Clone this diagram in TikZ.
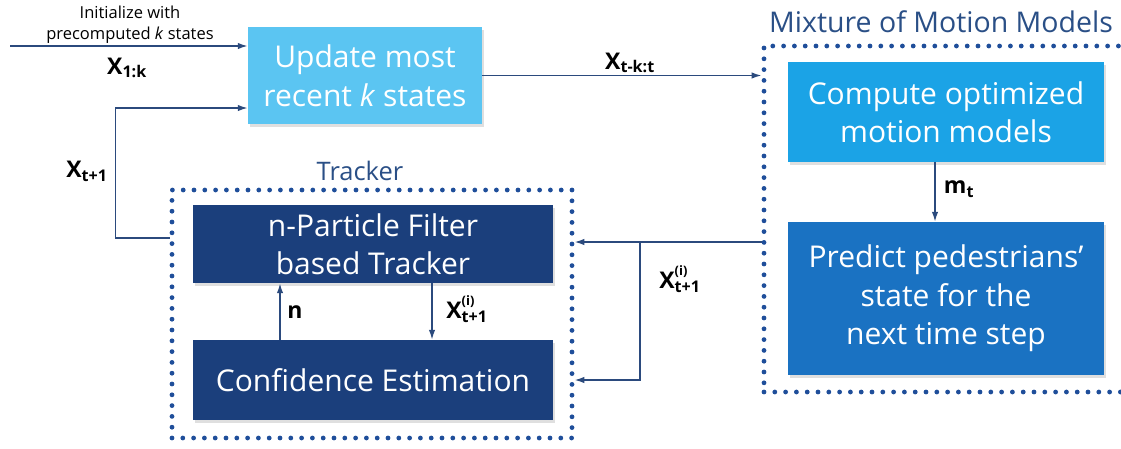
\documentclass[tikz,border=0pt]{standalone}
\usepackage{fontspec}
\setmainfont{Open Sans}
\usetikzlibrary{arrows.meta}
\usetikzlibrary{shadows}

\definecolor{skyblue}{HTML}{5BC5F2}
\definecolor{cyanblue}{HTML}{1BA3E6}
\definecolor{midblue}{HTML}{1A72C2}
\definecolor{navyblue}{HTML}{1B3F7C}
\definecolor{framecol}{HTML}{1F4E9A}
\definecolor{linkcol}{HTML}{2B4A7D}
\definecolor{titlecol}{HTML}{2A4F86}

\newcommand{\boxfont}{\fontsize{30}{38.5}\selectfont}
\newcommand{\labfont}{\fontsize{23}{26}\selectfont\bfseries}
\newcommand{\xsub}[1]{X\textsubscript{#1}}
\newcommand{\xpart}{X\rlap{\raisebox{1.05ex}{\fontsize{13}{13}\selectfont (i)}}\textsubscript{t+1}}

\begin{document}
\begin{tikzpicture}[x=1pt,y=-1pt,
  box/.style={rectangle, text=white, align=center, font=\boxfont, inner sep=0pt,
    drop shadow={opacity=0.25, shadow xshift=2pt, shadow yshift=-3pt}},
  frame/.style={rectangle, draw=framecol, line width=4.8pt, line cap=round, dash pattern=on 0pt off 10.8pt},
  link/.style={draw=linkcol, line width=1.6pt, -{Latex[length=10pt,width=6.5pt]}},
  lab/.style={font=\labfont, inner sep=0pt},
  heading/.style={text=titlecol, inner sep=0pt}]
\useasboundingbox (0,0) rectangle (1121,448);

% frames
\node[frame, minimum width=400pt, minimum height=248pt] (tracker) at (372,314) {};
\begin{scope}
\clip (0,0) rectangle (1121,448);
\node[frame, minimum width=420pt, minimum height=346pt] (mixture) at (974,219) {};
\end{scope}
\node[heading, font=\fontsize{25.5}{30}\selectfont] (trackertitle) at (360,171) {Tracker};
\node[heading, font=\fontsize{28.5}{32}\selectfont] (mixturetitle) at (941,22) {Mixture of Motion Models};

% boxes
\node[box, fill=skyblue, minimum width=234pt, minimum height=97pt] (update) at (365,75.5) {Update most\\recent \textit{k} states};
\node[box, fill=cyanblue, minimum width=316pt, minimum height=100pt] (compute) at (946,112) {Compute optimized\\motion models};
\node[box, fill=midblue, minimum width=316pt, minimum height=153pt] (predict) at (946,298.5) {Predict pedestrians’\\state for the\\next time step};
\node[box, fill=navyblue, minimum width=360pt, minimum height=78pt] (filter) at (373,244) {n-Particle Filter\\based Tracker};
\node[box, fill=navyblue, minimum width=360pt, minimum height=80pt] (confid) at (373,380) {Confidence Estimation};

% input
\coordinate (init) at (10,46);
\draw[link] (init) -- (init -| update.west);
\node[align=center, font=\fontsize{16.5}{21}\selectfont, inner sep=0pt] (initlab) at (130,24.5) {Initialize with\\precomputed \textit{k} states};
\node[lab] (xinit) at (127,68) {\xsub{1:k}};

% connectors
\draw[link] (update.east) -- (update.east -| mixture.west);
\node[lab] (xwin) at (630,63) {\xsub{t-k:t}};

\draw[link] ([xshift=-11pt]compute.south) -- ([xshift=-11pt]compute.south |- predict.north);
\node[lab] (mlab) at (959,189) {m\textsubscript{t}};

\draw[link] ([yshift=6pt]tracker.west |- filter.west) -- ++(-54,0) |- ([yshift=-32.5pt]update.west);
\node[lab] (xnext) at (87,171) {\xsub{t+1}};

\coordinate (split) at (640,242);
\draw[link] (split -| mixture.west) -- (split -| tracker.east);
\draw[link] (split) |- (tracker.east |- confid.east);
\node[lab] (xpred) at (680,279) {\xpart};

\draw[link] ([xshift=-93pt]confid.north) -- ([xshift=-93pt]filter.south);
\node[lab] (nlab) at (295,312) {n};
\draw[link] ([xshift=59pt]filter.south) -- ([xshift=59pt]confid.north);
\node[lab] (xfilt) at (467,309) {\xpart};
\end{tikzpicture}
\end{document}
